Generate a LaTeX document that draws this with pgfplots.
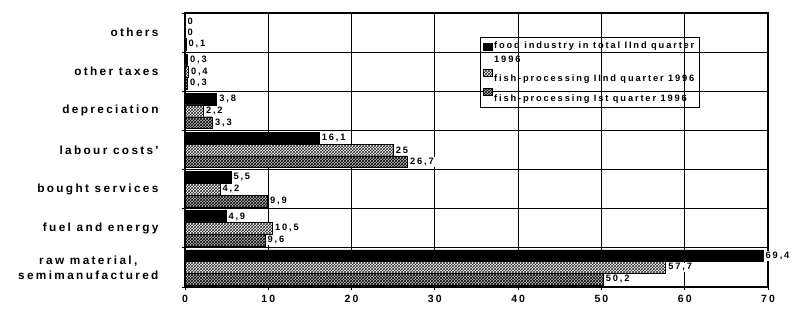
\documentclass[border=0pt]{standalone}
\usepackage{fontspec}
\setmainfont{Liberation Sans}
\newfontfamily\wide[LetterSpace=20]{Liberation Sans Bold}
\usepackage{pgfplots}
\usepackage{pgfplotstable}
\pgfplotsset{compat=1.18}
\usetikzlibrary{patterns}

% cost structure, %  (0 = raw material ... 6 = others)
\pgfplotstableread{
pos val lab
0 69.4 {69,4}
1 4.9  {4,9}
2 5.5  {5,5}
3 16.1 {16,1}
4 3.8  {3,8}
5 0.3  {0,3}
6 0    {0}
}\foodII
\pgfplotstableread{
pos val lab
0 57.7 {57,7}
1 10.5 {10,5}
2 4.2  {4,2}
3 25   {25}
4 2.2  {2,2}
5 0.4  {0,4}
6 0    {0}
}\fishII
\pgfplotstableread{
pos val lab
0 50.2 {50,2}
1 9.6  {9,6}
2 9.9  {9,9}
3 26.7 {26,7}
4 3.3  {3,3}
5 0.3  {0,3}
6 0.1  {0,1}
}\fishI

\begin{document}
\begin{tikzpicture}
\useasboundingbox (0,0) rectangle (800pt,314pt);
\begin{axis}[
  at={(185pt,27pt)}, anchor=south west,
  scale only axis, width=583pt, height=274pt,
  xbar, bar width=0.3,
  clip=false,
  xmin=0, xmax=70, ymin=-0.5, ymax=6.5,
  xtick={0,10,...,70},
  ytick={0,...,6},
  yticklabels={{raw material,\\semimanufactured},fuel and energy,bought services,labour costs',depreciation,other taxes,others},
  minor ytick={-0.5,0.5,...,6.5},
  xmajorgrids, yminorgrids,
  major grid style={black, line width=1.2pt},
  minor grid style={black, line width=1.2pt},
  axis line style={black, line width=1.6pt},
  tick align=center,
  major tick length=6pt, minor tick length=7pt,
  major y tick style={draw=none},
  every tick/.style={black, line width=1pt},
  xtick pos=bottom, ytick pos=left,
  /pgf/number format/assume math mode=true,
  xticklabel style={font=\wide\fontsize{10.5}{12}\selectfont, yshift=-2pt},
  yticklabel style={align=center, font=\wide\fontsize{11.8}{15}\selectfont, xshift=-20pt},
  point meta=explicit symbolic,
  nodes near coords,
  every node near coord/.append style={font=\wide\fontsize{9.3}{10}\selectfont, fill=white, inner sep=1pt, anchor=west, xshift=1.5pt},
  legend style={at={(0.506,0.912)}, anchor=north west, draw=black, line width=0.6pt, fill=none,
    font=\wide\fontsize{9.3}{14}\selectfont, cells={align=left, anchor=west}, inner sep=2.5pt, row sep=3pt},
  legend image code/.code={\draw[#1, draw=black, line width=0.4pt] (0pt,3pt) rectangle (9pt,10pt);},
]
\addplot[fill=black, draw=black, bar shift=0.3] table[x=val, y=pos, meta=lab] {\foodII};
\addlegendentry{food industry in total IInd quarter\\1996}
\addplot[fill=white, draw=black, postaction={pattern=crosshatch, pattern color=black!85}, bar shift=0] table[x=val, y=pos, meta=lab] {\fishII};
\addlegendentry{fish-processing IInd quarter 1996}
\addplot[fill=gray!55, draw=black, postaction={pattern=crosshatch, pattern color=black}, bar shift=-0.3] table[x=val, y=pos, meta=lab] {\fishI};
\addlegendentry{fish-processing Ist quarter 1996}
\end{axis}
\end{tikzpicture}
\end{document}
